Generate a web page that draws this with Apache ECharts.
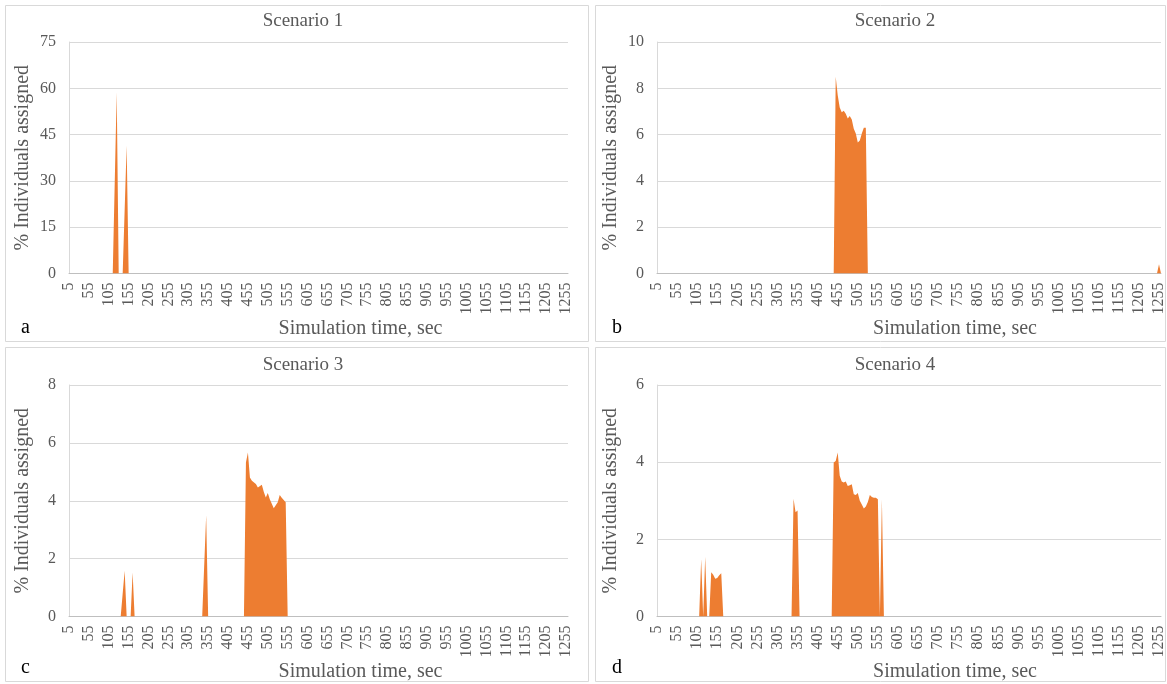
<!DOCTYPE html>
<html>
<head>
<meta charset="utf-8">
<script src="https://cdn.jsdelivr.net/npm/echarts@6/dist/echarts.min.js"></script>
<style>
html,body{margin:0;padding:0;background:#fff;}
#chart{width:1167px;height:684px;}
</style>
</head>
<body>
<div id="chart"></div>
<script>
// Simulation time categories (sec)
const times = [5,10,15,20,25,30,35,40,45,50,55,60,65,70,75,80,85,90,95,100,105,110,115,120,125,130,135,140,145,150,155,160,165,170,175,180,185,190,195,200,205,210,215,220,225,230,235,240,245,250,255,260,265,270,275,280,285,290,295,300,305,310,315,320,325,330,335,340,345,350,355,360,365,370,375,380,385,390,395,400,405,410,415,420,425,430,435,440,445,450,455,460,465,470,475,480,485,490,495,500,505,510,515,520,525,530,535,540,545,550,555,560,565,570,575,580,585,590,595,600,605,610,615,620,625,630,635,640,645,650,655,660,665,670,675,680,685,690,695,700,705,710,715,720,725,730,735,740,745,750,755,760,765,770,775,780,785,790,795,800,805,810,815,820,825,830,835,840,845,850,855,860,865,870,875,880,885,890,895,900,905,910,915,920,925,930,935,940,945,950,955,960,965,970,975,980,985,990,995,1000,1005,1010,1015,1020,1025,1030,1035,1040,1045,1050,1055,1060,1065,1070,1075,1080,1085,1090,1095,1100,1105,1110,1115,1120,1125,1130,1135,1140,1145,1150,1155,1160,1165,1170,1175,1180,1185,1190,1195,1200,1205,1210,1215,1220,1225,1230,1235,1240,1245,1250,1255,1260];

// Non-zero readings [time, % individuals assigned]; all other times are 0
const scenario1 = [[125,58.7],[150,41.5]];
const scenario2 = [[450,8.5],[455,7.7],[460,7.17],[465,6.97],[470,7.03],[475,6.9],[480,6.7],[485,6.8],[490,6.65],[495,6.25],[500,6.05],[505,5.66],[510,5.75],[515,6.05],[520,6.3],[525,6.3],[1255,0.4]];
const scenario3 = [[145,1.58],[165,1.52],[350,3.5],[450,5.32],[455,5.67],[460,4.8],[465,4.69],[470,4.65],[475,4.58],[480,4.46],[485,4.52],[490,4.55],[495,4.3],[500,4.11],[505,4.27],[510,4.05],[515,3.9],[520,3.74],[525,3.78],[530,3.95],[535,4.2],[540,4.1],[545,4.03],[550,3.95]];
const scenario4 = [[115,1.49],[125,1.55],[140,1.15],[145,1.08],[150,0.98],[155,1.0],[160,1.07],[165,1.12],[345,3.05],[350,2.7],[355,2.75],[445,3.99],[450,4.03],[455,4.25],[460,3.65],[465,3.5],[470,3.47],[475,3.5],[480,3.38],[485,3.4],[490,3.43],[495,3.17],[500,3.15],[505,3.2],[510,3.0],[515,2.9],[520,2.8],[525,2.85],[530,2.97],[535,3.15],[540,3.1],[545,3.08],[550,3.08],[555,3.04],[565,3.04]];

const titles = ['Scenario 1','Scenario 2','Scenario 3','Scenario 4'];
const letters = ['a','b','c','d'];
const yMax = [75,10,8,6];
const yStep = [15,2,2,2];
const xAxisTitle = 'Simulation time, sec';
const yAxisTitle = '% Individuals assigned';

function fill(pairs){
  const m = new Map(pairs);
  return times.map(t => m.has(t) ? m.get(t) : 0);
}
const seriesData = [scenario1, scenario2, scenario3, scenario4].map(fill);

const FONT = "'Liberation Serif','Times New Roman',serif";
const GREY = '#595959';

const grids = [
  {left:69, top:42, width:499, height:231.5},
  {left:657, top:42, width:506, height:231.5},
  {left:69, top:385, width:499, height:231.5},
  {left:657, top:385, width:506, height:231.5}
];
const titlePos = [[298,7],[890,7],[298,351],[890,351]];
const xNameShift = [84,92,84,92];
const frames = [
  [5,5,583,336],[595,5,570,336],[5,347,583,334],[595,347,570,334]
];
const letterPos = [[21,318],[612,318],[21,658],[612,658]];

const option = {
  backgroundColor:'#fff',
  animation:false,
  title: titles.map((t,i)=>({
    text:t, left:titlePos[i][0], top:titlePos[i][1], textAlign:'center',
    textStyle:{fontFamily:FONT, fontSize:19, fontWeight:'normal', color:GREY}
  })),
  grid: grids,
  xAxis: grids.map((g,i)=>({
    type:'category', gridIndex:i, data:times, boundaryGap:false,
    axisLine:{lineStyle:{color:'#bfbfbf'}},
    axisTick:{show:false},
    axisLabel:{interval:9, rotate:90, margin:9, fontFamily:FONT, fontSize:16, color:GREY},
    splitLine:{show:false},
    name:xAxisTitle, nameLocation:'middle', nameGap:44,
    nameTextStyle:{fontFamily:FONT, fontSize:20, color:GREY, padding:[0,0,0,xNameShift[i]]}
  })),
  yAxis: grids.map((g,i)=>({
    type:'value', gridIndex:i, min:0, max:yMax[i], interval:yStep[i],
    axisLine:{show:true, lineStyle:{color:'#d9d9d9'}},
    axisTick:{show:false},
    axisLabel:{fontFamily:FONT, fontSize:16, color:GREY, margin:13},
    splitLine:{lineStyle:{color:'#d9d9d9', width:1}},
    name:yAxisTitle, nameLocation:'middle', nameGap:36,
    nameTextStyle:{fontFamily:FONT, fontSize:20, color:GREY}
  })),
  series: seriesData.map((d,i)=>({
    type:'line', xAxisIndex:i, yAxisIndex:i, data:d,
    showSymbol:false, symbol:'none',
    lineStyle:{width:0, color:'#ED7D31'},
    itemStyle:{color:'#ED7D31'},
    areaStyle:{color:'#ED7D31', opacity:1}
  })),
  graphic: frames.map(f=>({
    type:'rect', shape:{x:f[0]+0.5, y:f[1]+0.5, width:f[2], height:f[3]},
    style:{fill:null, stroke:'#d9d9d9', lineWidth:1}, silent:true, z:-1
  })).concat(letters.map((l,i)=>({
    type:'text', left:letterPos[i][0], top:letterPos[i][1],
    style:{text:l, font:"20px 'Liberation Serif','Times New Roman',serif", fill:'#000'}
  })))
};

const chart = echarts.init(document.getElementById('chart'), null, {renderer:'canvas'});
chart.setOption(option);
</script>
</body>
</html>
